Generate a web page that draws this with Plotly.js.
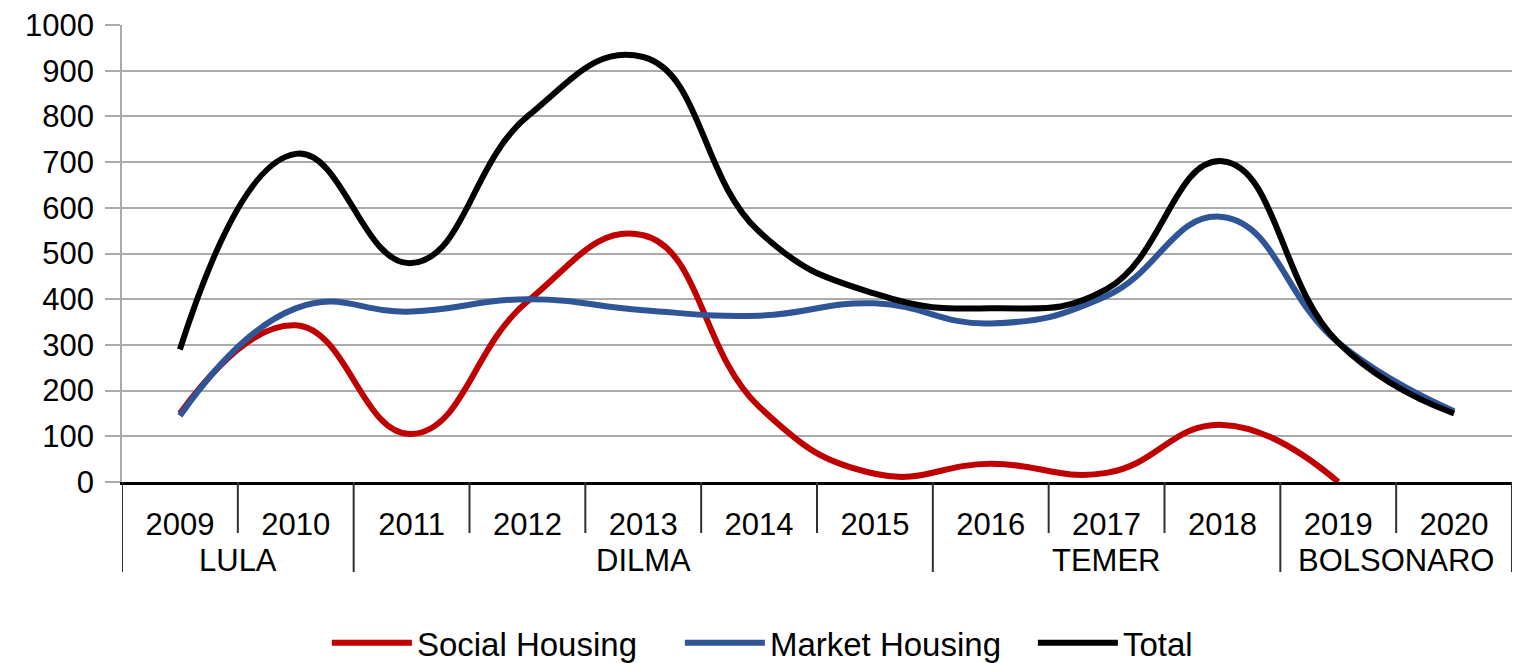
<!DOCTYPE html>
<html>
<head>
<meta charset="utf-8">
<script src="https://cdn.plot.ly/plotly-3.0.1.min.js"></script>
<style>
  html, body { margin: 0; padding: 0; background: #fff; }
  #chart { width: 1513px; height: 663px; }
</style>
</head>
<body>
<div id="chart"></div>
<script>
// ---- data ----
const years = ['2009','2010','2011','2012','2013','2014','2015','2016','2017','2018','2019','2020'];
const presidents = ['LULA','DILMA','TEMER','BOLSONARO'];
const presidentYearCounts = [2, 5, 3, 2];
const seriesNames = ['Social Housing', 'Market Housing', 'Total'];
const socialHousing = [150, 343, 105, 395, 540, 165, 18, 40, 20, 125, 0, null];
const marketHousing = [145, 380, 373, 400, 376, 364, 391, 347, 407, 580, 305, 155];
const totalHousing  = [290, 718, 479, 800, 930, 548, 412, 380, 422, 702, 305, 150];
const yTicks = [0,100,200,300,400,500,600,700,800,900,1000];

// ---- styles ----
const FONT = 'Liberation Sans, Arial, sans-serif';
const colors = ['#C00000', '#2F5597', '#000000'];
const widths = [6, 6, 6];
const seriesData = [socialHousing, marketHousing, totalHousing];

const traces = seriesData.map((vals, k) => ({
  type: 'scatter',
  mode: 'lines',
  name: seriesNames[k],
  x: years,
  y: vals,
  line: { color: colors[k], width: widths[k], shape: 'spline', smoothing: 1.3 },
  connectgaps: false,
  hoverinfo: 'x+y+name'
}));

// dividers and group labels derived from the group spans
const shapes = [];
const annotations = [];
const SHORT_Y = -0.1116, FULL_Y = -0.197;
let start = 0;
const groupBounds = new Set([-0.5]);
presidentYearCounts.forEach((n, g) => {
  const end = start + n;
  groupBounds.add(end - 0.5);
  annotations.push({
    xref: 'x', yref: 'paper', x: start + (n - 1) / 2, y: -0.1707,
    text: presidents[g], showarrow: false, xanchor: 'center', yanchor: 'middle',
    font: { family: FONT, size: 31, color: '#000' }
  });
  start = end;
});
for (let i = -0.5; i <= years.length - 0.5; i += 1) {
  const full = groupBounds.has(i);
  shapes.push({
    type: 'line', xref: 'x', yref: 'paper', x0: i, x1: i, y0: 0, y1: full ? FULL_Y : SHORT_Y,
    line: { color: '#303030', width: 2 }, layer: 'above'
  });
}

const layout = {
  width: 1513, height: 663,
  paper_bgcolor: '#fff', plot_bgcolor: '#fff',
  margin: { l: 122, r: 1, t: 25, b: 181, autoexpand: false },
  font: { family: FONT, size: 31, color: '#000' },
  showlegend: true,
  legend: {
    orientation: 'h', x: 0.1474, xanchor: 'left', y: -0.352, yanchor: 'middle',
    font: { family: FONT, size: 33, color: '#000' },
    itemwidth: 80, entrywidth: 258, entrywidthmode: 'pixels', traceorder: 'normal'
  },
  xaxis: {
    type: 'category', range: [-0.5, years.length - 0.5],
    showline: true, linecolor: '#000', linewidth: 2.5,
    showgrid: false, zeroline: false, ticks: '',
    tickfont: { family: FONT, size: 31, color: '#000' },
    ticklabelstandoff: 13, fixedrange: true
  },
  yaxis: {
    range: [0, 1000], tickvals: yTicks, ticktext: yTicks.map(String),
    showgrid: true, gridcolor: '#ABABAB', gridwidth: 1.5,
    showline: true, linecolor: '#ABABAB', linewidth: 1.5,
    ticks: 'outside', ticklen: 15, tickcolor: '#ABABAB', tickwidth: 1.5,
    zeroline: false,
    tickfont: { family: FONT, size: 31, color: '#000' },
    ticklabelstandoff: 5, fixedrange: true
  },
  shapes: shapes,
  annotations: annotations
};

Plotly.newPlot('chart', traces, layout, { displayModeBar: false });
</script>
</body>
</html>
